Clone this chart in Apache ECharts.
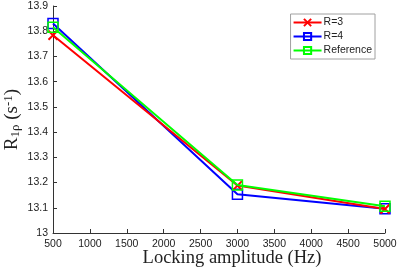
<!DOCTYPE html>
<html>
<head>
<meta charset="utf-8">
<script src="https://cdn.jsdelivr.net/npm/echarts@6/dist/echarts.min.js"></script>
<style>
  html, body { margin: 0; padding: 0; background: #fff; }
  #chart { width: 400px; height: 270px; }
</style>
</head>
<body>
<div id="chart"></div>
<script>
const lockingAmplitude = [500, 3000, 5000];
const r3Values = [13.784, 13.188, 13.095];
const r4Values = [13.831, 13.154, 13.096];
const referenceValues = [13.816, 13.19, 13.106];

const crossPath = 'path://M0,0L10,10M10,0L0,10';
const sq = 'path://M0,0L10,0L10,10L0,10Z';

const chart = echarts.init(document.getElementById('chart'));

function pairs(vals) {
  return lockingAmplitude.map((x, i) => [x, vals[i]]);
}

chart.setOption({
  animation: false,
  grid: { left: 53, right: 15, top: 6, bottom: 37, outerBoundsMode: 'none', containLabel: false },
  legend: {
    right: 25,
    top: 14,
    orient: 'vertical',
    itemGap: 3,
    itemWidth: 28,
    itemHeight: 9,
    padding: [3, 3, 3, 2],
    borderColor: '#a0a0a0',
    borderWidth: 1,
    backgroundColor: '#fff',
    borderRadius: 0,
    textStyle: { fontFamily: 'Liberation Sans', fontSize: 10.5, color: '#222', padding: [0, 0, 0, -3] },
    data: ['R=3', 'R=4', 'Reference'],
  },
  xAxis: {
    type: 'value',
    min: 500,
    max: 5000,
    interval: 500,
    name: 'Locking amplitude (Hz)',
    nameLocation: 'middle',
    nameGap: 16,
    nameMoveOverlap: false,
    nameTextStyle: {
      fontFamily: 'Liberation Serif', fontSize: 18.5, color: '#222', verticalAlign: 'top',
      padding: [0, 0, 0, 26],
    },
    axisLine: { lineStyle: { color: '#333', width: 1 } },
    axisTick: { inside: true, length: 4, lineStyle: { color: '#333' } },
    axisLabel: {
      fontFamily: 'Liberation Sans', fontSize: 10.5, color: '#222', margin: 6,
      formatter: (v) => String(v),
    },
    splitLine: { show: false },
  },
  yAxis: {
    type: 'value',
    min: 13,
    max: 13.9,
    interval: 0.1,
    name: '{r|R}{sub|1ρ}{r| (s}{sup|-1}{r|)}',
    nameLocation: 'middle',
    nameGap: 31,
    nameMoveOverlap: false,
    nameRotate: 90,
    nameTextStyle: {
      fontFamily: 'Liberation Serif',
      color: '#222',
      rich: {
        r: { fontFamily: 'Liberation Serif', fontSize: 19, color: '#222' },
        sub: { fontFamily: 'Liberation Serif', fontSize: 13, color: '#222', verticalAlign: 'bottom', padding: [7, 0, 0, 0] },
        sup: { fontFamily: 'Liberation Serif', fontSize: 13, color: '#222', verticalAlign: 'top', padding: [0, 0, 7, 0] },
      },
    },
    axisLine: { show: true, lineStyle: { color: '#333', width: 1 } },
    axisTick: { show: true, inside: true, length: 4, lineStyle: { color: '#333' } },
    axisLabel: {
      fontFamily: 'Liberation Sans', fontSize: 10.5, color: '#222', margin: 5,
      formatter: (v) => String(Math.round(v * 10) / 10),
    },
    splitLine: { show: false },
  },
  series: [
    {
      name: 'R=3',
      type: 'line',
      data: pairs(r3Values),
      symbol: crossPath,
      symbolSize: 9,
      lineStyle: { color: '#ff0000', width: 2 },
      itemStyle: { color: 'transparent', borderColor: '#ff0000', borderWidth: 2 },
      z: 3,
    },
    {
      name: 'R=4',
      type: 'line',
      data: pairs(r4Values),
      symbol: sq,
      symbolSize: 10,
      lineStyle: { color: '#0000ff', width: 2 },
      itemStyle: { color: 'transparent', borderColor: '#0000ff', borderWidth: 1.5 },
      z: 2,
    },
    {
      name: 'Reference',
      type: 'line',
      data: pairs(referenceValues),
      symbol: sq,
      symbolSize: 10,
      lineStyle: { color: '#00ff00', width: 2 },
      itemStyle: { color: 'transparent', borderColor: '#00ff00', borderWidth: 1.5 },
      z: 4,
    },
  ],
});
</script>
</body>
</html>
